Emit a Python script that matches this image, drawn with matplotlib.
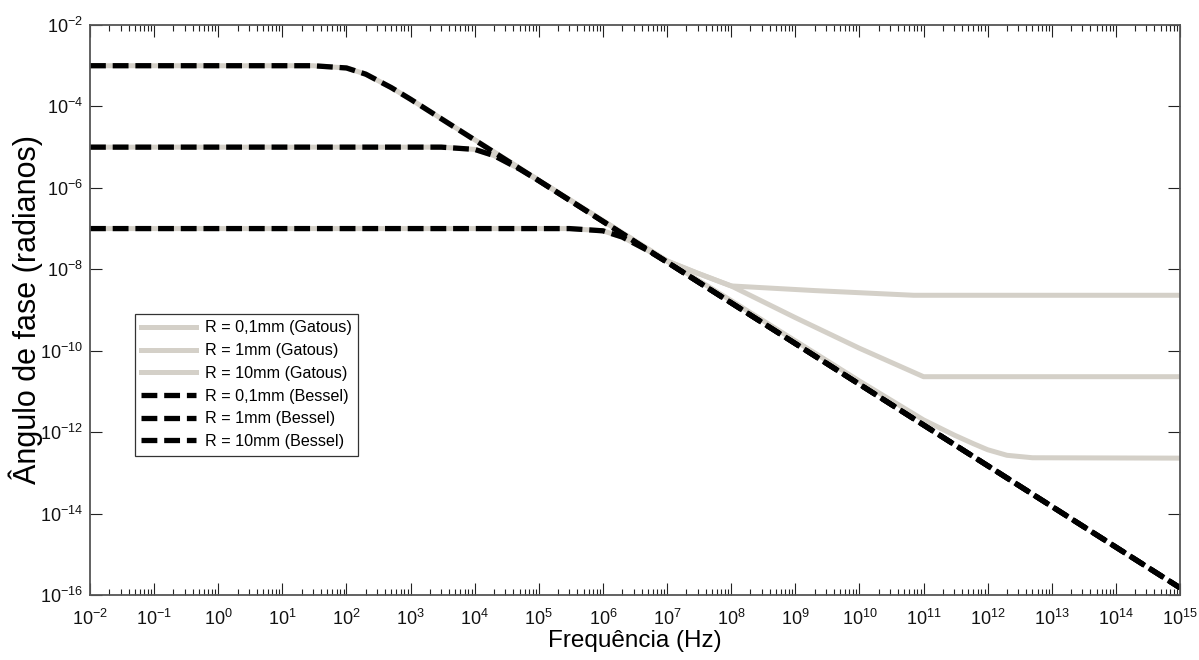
import matplotlib
matplotlib.use("Agg")
import matplotlib.pyplot as plt
import matplotlib.ticker as mticker
import numpy as np

plt.rcParams['font.family'] = ['Liberation Sans', 'DejaVu Sans']

# Bessel (exata) - angulo de fase em radianos
freq_b10 = [1e-2, 30, 100, 200, 500, 1e3, 1e15]
ang_b10 = [1e-3, 1e-3, 8.8e-4, 6.2e-4, 2.9e-4, 1.5e-4, 1.5e-16]
freq_b1 = [1e-2, 3e3, 1e4, 2e4, 5e4, 1e5, 1e15]
ang_b1 = [1e-5, 1e-5, 8.8e-6, 6.2e-6, 2.9e-6, 1.5e-6, 1.5e-16]
freq_b01 = [1e-2, 3e5, 1e6, 2e6, 5e6, 1e7, 1e15]
ang_b01 = [1e-7, 1e-7, 8.8e-8, 6.2e-8, 2.9e-8, 1.5e-8, 1.5e-16]

# Gatous (aproximada)
freq_g01 = [1e-2, 3e5, 1e6, 2e6, 5e6, 1e7, 3e7, 1e8, 2e9, 7e10, 1e15]
ang_g01 = [1e-7, 1e-7, 8.8e-8, 6.2e-8, 2.9e-8, 1.6e-8, 8e-9, 3.9e-9, 3.0e-9, 2.3e-9, 2.3e-9]
freq_g1 = [1e-2, 3e3, 1e4, 2e4, 5e4, 1e5, 1e7, 3e7, 1e8, 1e9, 1e10, 1e11, 1e15]
ang_g1 = [1e-5, 1e-5, 8.8e-6, 6.2e-6, 2.9e-6, 1.5e-6, 1.6e-8, 8e-9, 3.9e-9,
          6.5e-10, 1.15e-10, 2.3e-11, 2.3e-11]
freq_g10 = [1e-2, 30, 100, 200, 500, 1e3, 1e7, 1e8, 1e9, 1e10, 1e11, 3e11,
            6e11, 1e12, 2e12, 5e12, 1e15]
ang_g10 = [1e-3, 1e-3, 8.8e-4, 6.2e-4, 2.9e-4, 1.5e-4, 1.6e-8, 1.7e-9, 1.75e-10,
           1.8e-11, 2e-12, 8.5e-13, 5.2e-13, 3.7e-13, 2.7e-13, 2.35e-13, 2.3e-13]

cinza = '#d4d0c8'

fig = plt.figure(figsize=(11.99, 6.6), dpi=100)
ax = fig.add_axes([90/1199, 65/660, 1090/1199, 570/660])

ax.loglog(freq_g01, ang_g01, color=cinza, lw=3.6, label='R = 0,1mm (Gatous)')
ax.loglog(freq_g1, ang_g1, color=cinza, lw=3.6, label='R = 1mm (Gatous)')
ax.loglog(freq_g10, ang_g10, color=cinza, lw=3.6, label='R = 10mm (Gatous)')
for f, a, lab in [(freq_b01, ang_b01, 'R = 0,1mm (Bessel)'),
                  (freq_b1, ang_b1, 'R = 1mm (Bessel)'),
                  (freq_b10, ang_b10, 'R = 10mm (Bessel)')]:
    ax.loglog(f, a, color='black', lw=3.8, linestyle=(0, (3.0, 1.3)), label=lab)

ax.set_xlim(1e-2, 1e15)
ax.set_ylim(1e-16, 1e-2)

ax.xaxis.set_major_locator(mticker.LogLocator(base=10, numticks=40))
ax.xaxis.set_minor_locator(mticker.LogLocator(base=10, subs=np.arange(2, 10), numticks=400))
ax.xaxis.set_minor_formatter(mticker.NullFormatter())
ax.yaxis.set_major_locator(mticker.FixedLocator(10.0 ** np.arange(-16, -1, 2)))
ax.yaxis.set_minor_locator(mticker.NullLocator())

ax.tick_params(which='both', direction='in', top=True, right=True, colors='#222222',
               labelcolor='#111111', labelsize=13, width=0.8)
ax.tick_params(which='major', length=8.5)
ax.tick_params(which='minor', length=4.5)
ax.tick_params(axis='x', pad=10)
ax.tick_params(axis='y', pad=5)
for s in ax.spines.values():
    s.set_color('#555555')
    s.set_linewidth(1.3)

ax.set_xlabel('Frequência (Hz)', fontsize=17.5, labelpad=1)
ax.set_ylabel('Ângulo de fase (radianos)', fontsize=22, labelpad=-2)

leg = ax.legend(loc='upper left', bbox_to_anchor=(45/1090, 1 - 289/570), borderaxespad=0,
                fontsize=11.6, handlelength=3.4, handletextpad=0.55, labelspacing=0.48,
                borderpad=0.4, fancybox=False, framealpha=1)
leg.get_frame().set_edgecolor('#333333')
leg.get_frame().set_linewidth(0.9)

fig.savefig('out.png', dpi=100)
